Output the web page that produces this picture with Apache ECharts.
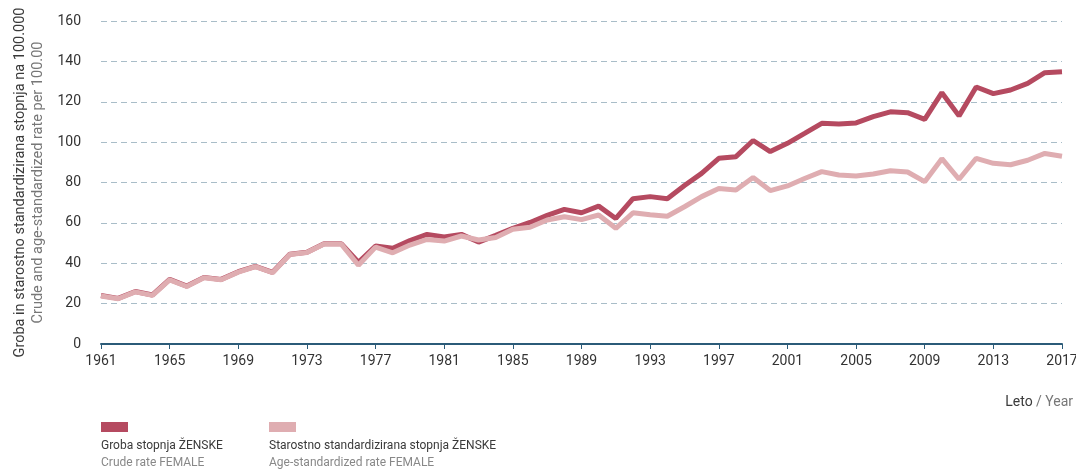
<!DOCTYPE html>
<html>
<head>
<meta charset="utf-8">
<script src="https://cdn.jsdelivr.net/npm/echarts@6/dist/echarts.min.js"></script>
<style>
  html, body { margin: 0; padding: 0; background: #fff; }
  #main_chart { width: 1076px; height: 476px; }
</style>
</head>
<body>
<div id="main_chart"></div>
<script>
// leta 1961 - 2017
var years = [];
for (var y = 1961; y <= 2017; y++) years.push(String(y));

// Groba stopnja ZENSKE / Crude rate FEMALE
var crudeRate = [
  24, 22.6, 26, 24.3, 32, 28.7, 33, 32, 35.8, 38.5,
  35.5, 44.5, 45.5, 49.7, 49.7, 40.5, 48.5, 47.4, 51.2, 54.3,
  53, 54.3, 50.5, 53.8, 57.3, 60.2, 63.7, 66.7, 65, 68.3,
  62.2, 72, 73, 72, 78.5, 84.5, 92, 92.8, 100.8, 95.3,
  99.4, 104.3, 109.3, 109, 109.5, 112.6, 115, 114.6, 111.3, 124.5,
  113, 127.3, 124, 125.8, 129.1, 134.4, 134.9
];

// Starostno standardizirana stopnja ZENSKE / Age-standardized rate FEMALE
var ageStdRate = [
  23.8, 22.4, 25.8, 24.1, 31.8, 28.5, 32.8, 31.8, 35.6, 38.3,
  35.3, 44.3, 45.3, 49.5, 49.5, 39, 48, 45.2, 49, 51.8,
  51, 53.5, 51.5, 52.8, 56.8, 57.8, 61.4, 63, 61.6, 63.9,
  57.3, 65, 64, 63.3, 68, 73, 77, 76.3, 82.5, 76,
  78.3, 82, 85.4, 83.7, 83.2, 84.2, 85.8, 85.2, 80.4, 91.8,
  81.6, 92, 89.5, 88.8, 91, 94.4, 93
];

var FONT = 'Roboto, "Noto Sans", sans-serif';
var DARK = '#b54a60';
var LIGHT = '#dfadb1';

var mychart = echarts.init(document.getElementById('main_chart'));

var option = {
  animation: false,
  textStyle: { fontFamily: FONT },
  grid: { left: 101, right: 14, top: 21, bottom: 132, containLabel: false, outerBoundsMode: 'none' },
  xAxis: {
    type: 'category',
    data: years,
    boundaryGap: false,
    axisLine: { lineStyle: { color: '#2b5b78', width: 2 } },
    axisTick: { show: true, interval: 3, length: 5, lineStyle: { color: '#2b5b78', width: 1 } },
    axisLabel: { interval: 3, color: '#333', fontSize: 14, fontFamily: FONT, margin: 10 },
    splitLine: { show: false }
  },
  yAxis: {
    type: 'value',
    min: 0,
    max: 160,
    interval: 20,
    axisLine: { show: false },
    axisTick: { show: false },
    axisLabel: { color: '#333', fontSize: 14, fontFamily: FONT, margin: 20 },
    splitLine: { lineStyle: { color: '#a9bdc8', type: [6, 4], width: 1 } },
    name: '{a|Groba in starostno standardizirana stopnja na 100.000}\n{b|Crude and age-standardized rate per 100.00}',
    nameLocation: 'middle',
    nameGap: 54,
    nameRotate: 90,
    nameTextStyle: {
      rich: {
        a: { fontSize: 14.5, color: '#3a3a3a', fontFamily: FONT, lineHeight: 18 },
        b: { fontSize: 14.5, color: '#777', fontFamily: FONT, lineHeight: 18 }
      }
    }
  },
  series: [
    {
      name: 'Groba stopnja ŽENSKE',
      type: 'line',
      data: crudeRate,
      symbol: 'none',
      lineStyle: { color: DARK, width: 5 },
      itemStyle: { color: DARK }
    },
    {
      name: 'Starostno standardizirana stopnja ŽENSKE',
      type: 'line',
      data: ageStdRate,
      symbol: 'none',
      lineStyle: { color: LIGHT, width: 5 },
      itemStyle: { color: LIGHT }
    }
  ],
  graphic: [
    {
      type: 'text', right: 3, top: 395,
      style: { text: '{a|Leto} {b|/ Year}', rich: {
        a: { fontSize: 14, fill: '#3a3a3a', fontFamily: FONT },
        b: { fontSize: 14, fill: '#777', fontFamily: FONT } } }
    },
    { type: 'rect', left: 101, top: 422, shape: { width: 27, height: 10 }, style: { fill: DARK } },
    { type: 'rect', left: 269, top: 422, shape: { width: 27, height: 10 }, style: { fill: LIGHT } },
    {
      type: 'text', left: 101, top: 440,
      style: { text: '{a|Groba stopnja ŽENSKE}\n{b|Crude rate FEMALE}', rich: {
        a: { fontSize: 12, fill: '#3a3a3a', fontFamily: FONT, lineHeight: 17 },
        b: { fontSize: 12, fill: '#888', fontFamily: FONT, lineHeight: 17 } } }
    },
    {
      type: 'text', left: 269, top: 440,
      style: { text: '{a|Starostno standardizirana stopnja ŽENSKE}\n{b|Age-standardized rate FEMALE}', rich: {
        a: { fontSize: 12, fill: '#3a3a3a', fontFamily: FONT, lineHeight: 17 },
        b: { fontSize: 12, fill: '#888', fontFamily: FONT, lineHeight: 17 } } }
    }
  ]
};

mychart.setOption(option);
</script>
</body>
</html>
